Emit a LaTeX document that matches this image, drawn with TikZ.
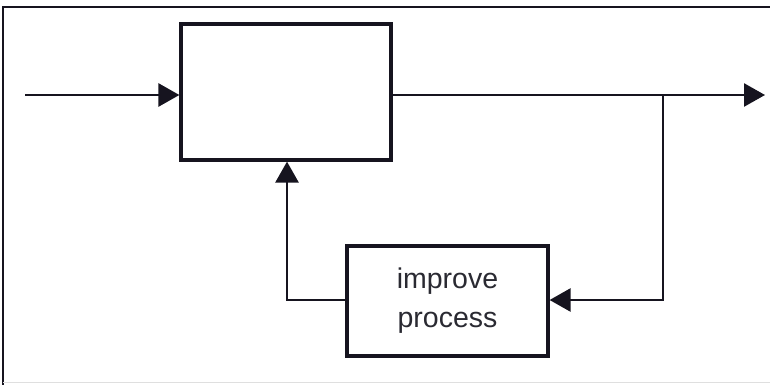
\documentclass[tikz,border=0pt]{standalone}
\usepackage{fontspec}
\setmainfont{Liberation Sans}
\usetikzlibrary{arrows.meta}
\definecolor{ink}{HTML}{16141F}
\definecolor{txt}{HTML}{2A2A32}
\begin{document}
\begin{tikzpicture}[x=1pt,y=-1pt,
  blockbox/.style={draw=ink,line width=3.2pt,fill=white,inner sep=0pt},
  flow/.style={draw=ink,line width=2.6pt,-{Triangle[length=21pt,width=23pt]}},
  plain/.style={draw=ink,line width=2.6pt}]
\useasboundingbox (0,0) rectangle (770,385);
\fill[white] (0,0) rectangle (770,385);
% outer frame
\draw[ink,line width=2.2pt] (3,385) -- (3,7) -- (770,7);
\draw[gray!25,line width=1pt] (3,382) -- (770,382);
% blocks
\node[blockbox,minimum width=210pt,minimum height=136pt] (top) at (286,92) {};
\node[blockbox,minimum width=201pt,minimum height=110pt,
  font=\fontsize{28.5}{39}\selectfont,text=txt,align=center] (imp) at (447.5,301) {improve\\process};
% connector points
\coordinate (in) at (25,95);
\coordinate (out) at (765,95);
\coordinate (branch) at (663,95);
\coordinate (corner) at (663,300);
\coordinate (leftcorner) at (287,300);
% signal path
\draw[flow] (in) -- (in -| top.west);
\draw[flow] (top.east |- out) -- (out);
% feedback loop
\draw[flow] (branch) -- (corner) -- (corner -| imp.east);
\draw[flow] (leftcorner -| imp.west) -- (leftcorner) -- (leftcorner |- top.south);
\end{tikzpicture}
\end{document}
